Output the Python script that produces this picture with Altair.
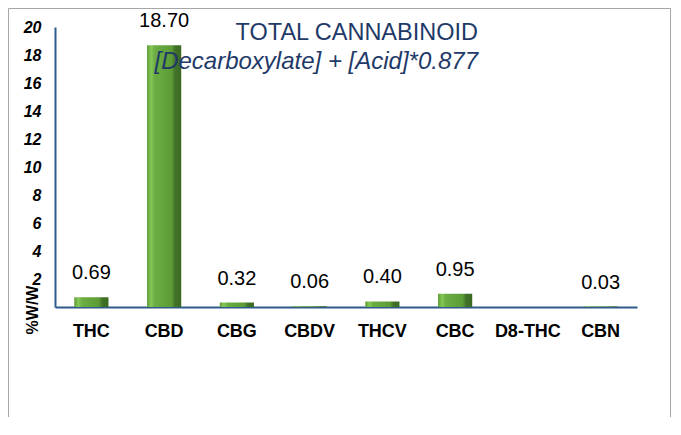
import altair as alt
import pandas as pd

categories = ["THC", "CBD", "CBG", "CBDV", "THCV", "CBC", "D8-THC", "CBN"]
values = [0.69, 18.70, 0.32, 0.06, 0.40, 0.95, None, 0.03]
y_ticks = [2, 4, 6, 8, 10, 12, 14, 16, 18, 20]
title_line1 = "TOTAL CANNABINOID"
title_line2 = "[Decarboxylate] + [Acid]*0.877"
y_title = "%W/W"

df = pd.DataFrame({"cat": categories, "value": values})

FONT = "Liberation Sans"
AXIS_COLOR = "#2e5b8c"
TITLE_COLOR = "#1f3a68"

x_scale = alt.Scale(paddingInner=0.53, paddingOuter=0.265)
x_axis = alt.Axis(title=None, labelAngle=0, labelFont=FONT, labelFontSize=18,
                  labelFontWeight="bold", labelColor="black", labelPadding=15,
                  ticks=False, tickSize=0, domainColor=AXIS_COLOR, domainWidth=2,
                  grid=False, labelOverlap=False)
y_scale = alt.Scale(domain=[0, 20], nice=False)
y_axis = alt.Axis(title=None, values=y_ticks, labelFont=FONT, labelFontSize=16,
                  labelFontWeight="bold", labelFontStyle="italic", labelColor="black",
                  ticks=False, tickSize=0, labelPadding=14, grid=False,
                  labelOverlap=False, domainColor=AXIS_COLOR, domainWidth=2)

gradient = alt.LinearGradient(
    gradient="linear",
    stops=[
        alt.GradientStop(offset=0, color="#5e9c37"),
        alt.GradientStop(offset=0.12, color="#86c857"),
        alt.GradientStop(offset=0.22, color="#6cae43"),
        alt.GradientStop(offset=0.72, color="#5c9b36"),
        alt.GradientStop(offset=0.82, color="#42722a"),
        alt.GradientStop(offset=1, color="#3b6922"),
    ],
    x1=0, x2=1, y1=0, y2=0,
)

bars = alt.Chart(df).mark_bar(color=gradient).encode(
    x=alt.X("cat:N", sort=categories, scale=x_scale, axis=x_axis),
    y=alt.Y("value:Q", scale=y_scale, axis=y_axis),
)

labels = alt.Chart(df).transform_filter("datum.value != null").mark_text(
    font=FONT, fontSize=20, color="black", baseline="bottom", dy=-14
).encode(
    x=alt.X("cat:N", sort=categories, scale=x_scale, axis=x_axis),
    y=alt.Y("value:Q", scale=y_scale, axis=y_axis),
    text=alt.Text("value:Q", format=".2f"),
)

one = pd.DataFrame({"a": [0]})

t1 = alt.Chart(one).mark_text(font=FONT, fontSize=23.5, color=TITLE_COLOR, align="right",
                              baseline="middle", text=title_line1).encode(
    x=alt.value(423), y=alt.value(6))
t2 = alt.Chart(one).mark_text(font=FONT, fontSize=24, fontStyle="italic", color=TITLE_COLOR,
                              align="right", baseline="middle", text=title_line2).encode(
    x=alt.value(423), y=alt.value(35))
ytitle = alt.Chart(one).mark_text(font=FONT, fontSize=16, fontWeight="bold", color="black",
                                  angle=270, align="center", baseline="middle",
                                  text=y_title).encode(
    x=alt.value(-22), y=alt.value(283))
border = alt.Chart(one).mark_rect(filled=False, stroke="#a6a6a6", strokeWidth=1).encode(
    x=alt.value(-46.5), x2=alt.value(615.5), y=alt.value(-18.5), y2=alt.value(500))

chart = alt.layer(border, bars, labels, t1, t2, ytitle).properties(
    width=582, height=280,
    background="white",
    autosize=alt.AutoSizeParams(type="none"),
    padding={"left": 47, "top": 19, "right": 36, "bottom": 110},
).configure_view(stroke=None)

chart.save("out.html", embed_options={"renderer": "svg", "actions": False})
